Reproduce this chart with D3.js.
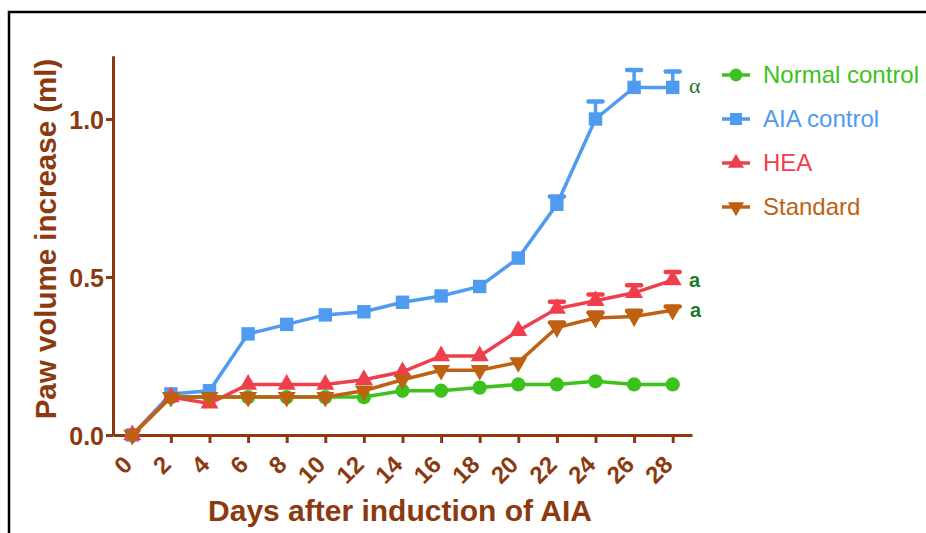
<!DOCTYPE html>
<html>
<head>
<meta charset="utf-8">
<script src="https://cdn.jsdelivr.net/npm/d3@7"></script>
<style>
  body { margin: 0; background: #fff; }
  svg { display: block; font-family: "Liberation Sans", Arial, sans-serif; }
</style>
</head>
<body>
<div id="chart"></div>
<script>
  // data (ml), one value per day
  var days = [0, 2, 4, 6, 8, 10, 12, 14, 16, 18, 20, 22, 24, 26, 28];
  var normalControl = [0, 0.12, 0.12, 0.12, 0.12, 0.12, 0.12, 0.14, 0.14, 0.15, 0.16, 0.16, 0.17, 0.16, 0.16];
  var aiaControl    = [0, 0.13, 0.14, 0.32, 0.35, 0.38, 0.39, 0.42, 0.44, 0.47, 0.56, 0.73, 1.00, 1.10, 1.10];
  var aiaErr        = [0, 0, 0, 0, 0, 0, 0, 0, 0, 0, 0, 0.025, 0.055, 0.055, 0.05];
  var hea           = [0, 0.12, 0.10, 0.16, 0.16, 0.16, 0.175, 0.20, 0.25, 0.25, 0.33, 0.40, 0.425, 0.45, 0.49];
  var heaErr        = [0, 0, 0, 0, 0, 0, 0, 0, 0, 0, 0, 0.022, 0.02, 0.024, 0.026];
  var standard      = [0, 0.12, 0.12, 0.12, 0.12, 0.12, 0.14, 0.175, 0.205, 0.205, 0.23, 0.34, 0.37, 0.375, 0.395];
  var stdErr        = [0, 0, 0, 0, 0, 0, 0, 0, 0, 0, 0, 0.016, 0.018, 0.018, 0.012];
  var yTicks = [0, 0.5, 1.0];
  var seriesNames = ["Normal control", "AIA control", "HEA", "Standard"];

  var axisColor = "#8b3a10";
  var W = 926, H = 533;

  var svg = d3.select("#chart").append("svg")
      .attr("width", W).attr("height", H);

  // frame of the original picture
  svg.append("path")
      .attr("d", "M9,533 V12 H926")
      .attr("fill", "none").attr("stroke", "#000").attr("stroke-width", 2.5);

  var x = d3.scaleLinear().domain([-1, 29]).range([113, 692]);
  var y = d3.scaleLinear().domain([0, 1.2]).range([435, 55.8]);

  // x axis
  var xAxis = svg.append("g")
      .attr("transform", "translate(0," + y(0) + ")")
      .call(d3.axisBottom(x).tickValues(days).tickSize(8).tickSizeOuter(0));
  // rotated labels, end of text just under the tick
  xAxis.selectAll("text")
      .attr("x", 0).attr("y", 0).attr("dy", null)
      .attr("transform", "translate(-5,25) rotate(-45)")
      .style("text-anchor", "end")
      .attr("dominant-baseline", "central");

  // y axis
  var yAxis = svg.append("g")
      .attr("transform", "translate(" + x(-1) + ",0)")
      .call(d3.axisLeft(y).tickValues(yTicks).tickFormat(d3.format(".1f")).tickSize(7).tickSizeOuter(0));
  yAxis.selectAll("text").attr("x", -9).attr("dy", "0.36em");

  svg.selectAll(".domain, .tick line")
      .attr("stroke", axisColor).attr("stroke-width", 3);
  svg.selectAll(".tick text")
      .attr("fill", axisColor)
      .style("font-size", "25px").style("font-weight", "bold");
  xAxis.selectAll("text").style("font-size", "24px");

  // axis titles
  svg.append("text")
      .attr("x", 400).attr("y", 521)
      .attr("text-anchor", "middle")
      .attr("fill", axisColor)
      .style("font-size", "30px").style("font-weight", "bold")
      .text("Days after induction of AIA");
  svg.append("text")
      .attr("transform", "translate(56,239) rotate(-90)")
      .attr("text-anchor", "middle")
      .attr("fill", axisColor)
      .style("font-size", "29.5px").style("font-weight", "bold")
      .text("Paw volume increase (ml)");

  var series = [
    {name: seriesNames[0], values: normalControl, err: null, color: "#3cc21c", shape: d3.symbolCircle, size: 160, rot: 0},
    {name: seriesNames[1], values: aiaControl, err: aiaErr, color: "#4f9bef", shape: d3.symbolSquare, size: 180, rot: 0},
    {name: seriesNames[2], values: hea, err: heaErr, color: "#ef3f4c", shape: d3.symbolTriangle, size: 140, rot: 0},
    {name: seriesNames[3], values: standard, err: stdErr, color: "#bf6112", shape: d3.symbolTriangle, size: 140, rot: 180}
  ];

  var line = d3.line()
      .x(function(d) { return x(d.day); })
      .y(function(d) { return y(d.v); });

  series.forEach(function(s) {
    var pts = days.map(function(d, i) { return {day: d, v: s.values[i], e: s.err ? s.err[i] : 0}; });
    var g = svg.append("g");

    // error bars (upper only)
    var eb = pts.filter(function(p) { return p.e > 0; });
    g.selectAll("line.err").data(eb).enter().append("line")
        .attr("x1", function(p) { return x(p.day); })
        .attr("x2", function(p) { return x(p.day); })
        .attr("y1", function(p) { return y(p.v); })
        .attr("y2", function(p) { return y(p.v + p.e); })
        .attr("stroke", s.color).attr("stroke-width", 3.5);
    g.selectAll("line.cap").data(eb).enter().append("line")
        .attr("x1", function(p) { return x(p.day) - 7; })
        .attr("x2", function(p) { return x(p.day) + 7; })
        .attr("y1", function(p) { return y(p.v + p.e); })
        .attr("y2", function(p) { return y(p.v + p.e); })
        .attr("stroke", s.color).attr("stroke-width", 4.5).attr("stroke-linecap", "round");

    g.append("path").datum(pts)
        .attr("d", line)
        .attr("fill", "none").attr("stroke", s.color).attr("stroke-width", 3.5);

    g.selectAll("path.pt").data(pts).enter().append("path")
        .attr("d", d3.symbol().type(s.shape).size(s.size))
        .attr("transform", function(p) { return "translate(" + x(p.day) + "," + y(p.v) + ") rotate(" + s.rot + ")"; })
        .attr("fill", s.color);
  });

  // legend
  var legend = svg.append("g");
  series.forEach(function(s, i) {
    var ly = 75 + i * 44;
    legend.append("line")
        .attr("x1", 722).attr("x2", 750).attr("y1", ly).attr("y2", ly)
        .attr("stroke", s.color).attr("stroke-width", 3.5);
    legend.append("path")
        .attr("d", d3.symbol().type(s.shape).size(s.size * 0.8))
        .attr("transform", "translate(736," + ly + ") rotate(" + s.rot + ")")
        .attr("fill", s.color);
    legend.append("text")
        .attr("x", 763).attr("y", ly)
        .attr("dy", "0.35em")
        .attr("fill", s.color)
        .style("font-size", "24px")
        .text(s.name);
  });

  // significance marks
  var markColor = "#1b7a2e";
  svg.append("text")
      .attr("x", 689).attr("y", y(aiaControl[14]) + 6)
      .attr("fill", markColor)
      .style("font-family", "'Liberation Serif', serif")
      .style("font-size", "22px")
      .text("α");
  svg.append("text")
      .attr("x", 689).attr("y", y(hea[14]) + 7)
      .attr("fill", markColor)
      .style("font-size", "20px").style("font-weight", "bold")
      .text("a");
  svg.append("text")
      .attr("x", 690).attr("y", y(standard[14]) + 7)
      .attr("fill", markColor)
      .style("font-size", "20px").style("font-weight", "bold")
      .text("a");
</script>
</body>
</html>
